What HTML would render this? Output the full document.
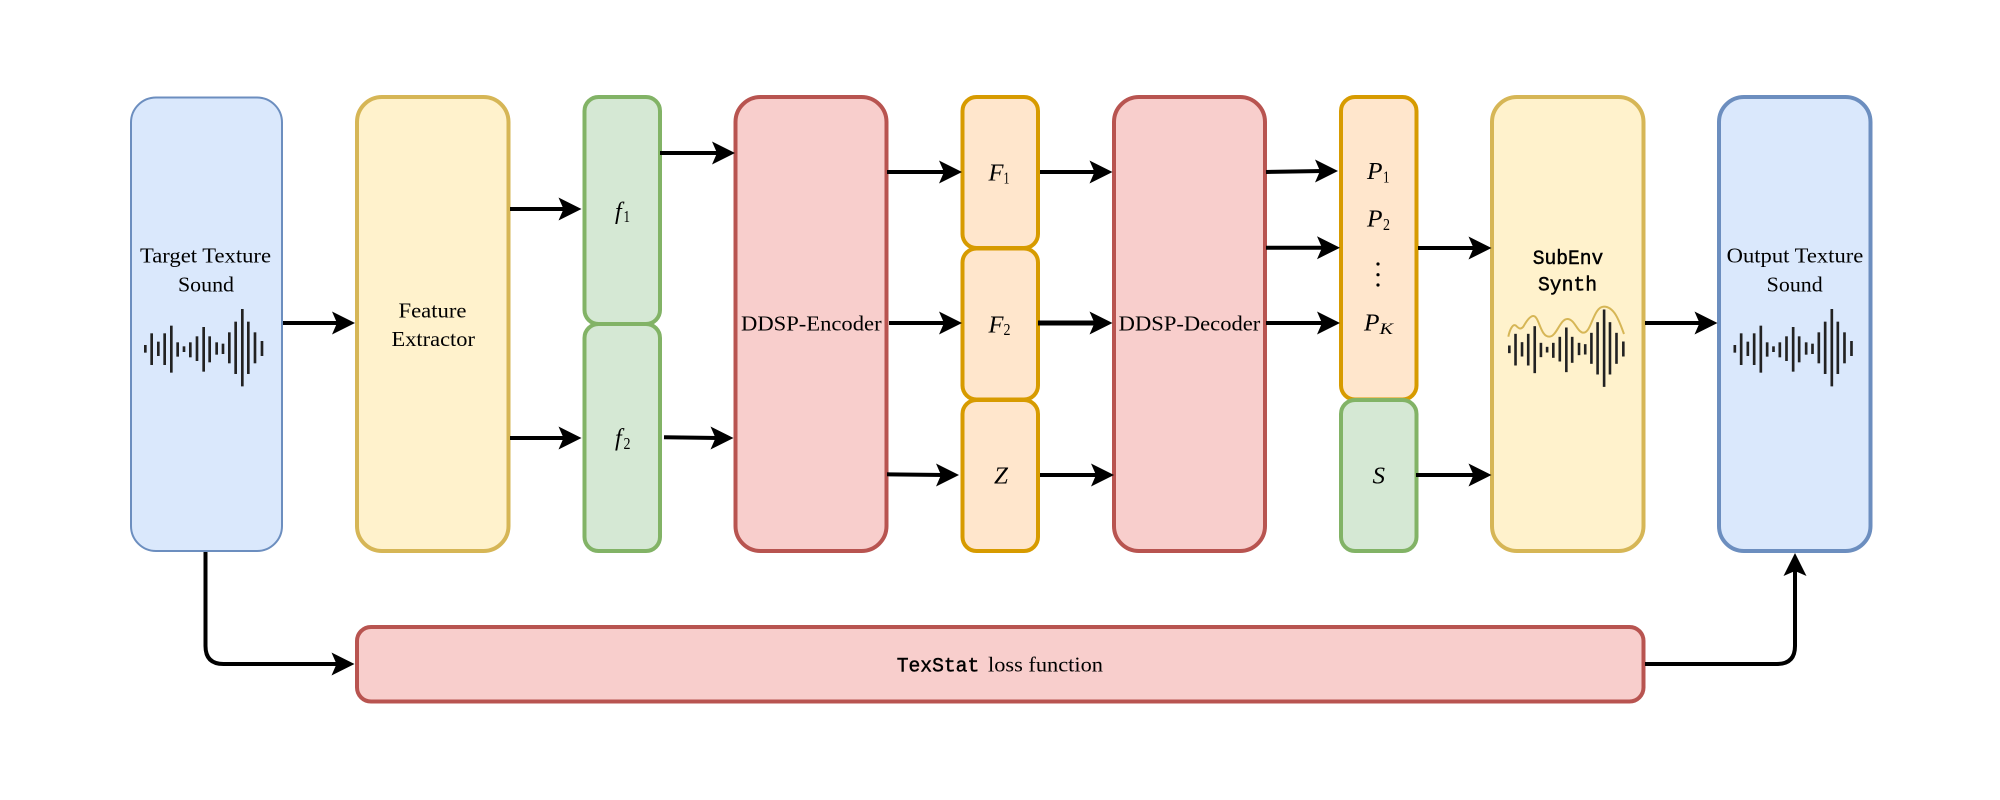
<!DOCTYPE html>
<html><head><meta charset="utf-8"><style>
html,body{margin:0;padding:0;background:#fff}
svg{display:block}
text{font-family:"Liberation Serif",serif;font-size:21.500px;fill:#000}
.m{font-family:"Liberation Mono",monospace;font-weight:normal;font-size:20px;stroke:#000;stroke-width:.45px}
.i{font-style:italic;font-size:24px}
.s{font-size:16.500px}
.si{font-size:16px;font-style:italic}
.wave line{stroke:#222;stroke-width:8}
.c{stroke:#000;stroke-width:4;fill:none}
</style></head><body>
<svg width="2000" height="800" viewBox="0 0 2000 800" xmlns="http://www.w3.org/2000/svg">
<rect width="2000" height="800" fill="#fff"/>
<defs>
<g id="wv" class="wave">
<line x1="46" y1="345" x2="46" y2="368"/><line x1="65" y1="310" x2="65" y2="405"/><line x1="85" y1="335" x2="85" y2="378"/><line x1="104" y1="310" x2="104" y2="405"/><line x1="124" y1="287" x2="124" y2="428"/><line x1="143" y1="337" x2="143" y2="380"/><line x1="162" y1="349" x2="162" y2="366"/><line x1="181" y1="337" x2="181" y2="382"/><line x1="201" y1="319" x2="201" y2="393"/><line x1="221" y1="291" x2="221" y2="425"/><line x1="239" y1="319" x2="239" y2="397"/><line x1="260" y1="337" x2="260" y2="374"/><line x1="279" y1="341" x2="279" y2="372"/><line x1="298" y1="307" x2="298" y2="400"/><line x1="317" y1="275" x2="317" y2="432"/><line x1="337" y1="237" x2="337" y2="469"/><line x1="355" y1="275" x2="355" y2="432"/><line x1="375" y1="307" x2="375" y2="400"/><line x1="396" y1="333" x2="396" y2="378"/>
</g>
<path id="ah" d="M0 0L-23 -11.5L-18 0L-23 11.5Z" fill="#000"/>
</defs>

<!-- boxes -->
<g stroke-width="4">
<rect x="131" y="97.5" width="151" height="453.5" rx="25" fill="#dae8fc" stroke="#6c8ebf" stroke-width="2"/>
<rect x="357" y="97" width="151.5" height="454" rx="25" fill="#fff2cc" stroke="#d6b656"/>
<rect x="584.500" y="97" width="75.500" height="227" rx="14" fill="#d5e8d4" stroke="#82b366"/>
<rect x="584.500" y="324" width="75.500" height="227" rx="14" fill="#d5e8d4" stroke="#82b366"/>
<rect x="735.500" y="97" width="151" height="454" rx="25" fill="#f8cecc" stroke="#b85450"/>
<rect x="962.500" y="97" width="75.500" height="151" rx="14" fill="#ffe6cc" stroke="#d79b00"/>
<rect x="962.500" y="248.500" width="75.500" height="151" rx="14" fill="#ffe6cc" stroke="#d79b00"/>
<rect x="962.500" y="400" width="75.500" height="151" rx="14" fill="#ffe6cc" stroke="#d79b00"/>
<rect x="1114" y="97" width="151" height="454" rx="25" fill="#f8cecc" stroke="#b85450"/>
<rect x="1341" y="97" width="75.500" height="302.500" rx="14" fill="#ffe6cc" stroke="#d79b00"/>
<rect x="1341" y="400" width="75.500" height="151" rx="14" fill="#d5e8d4" stroke="#82b366"/>
<rect x="1492" y="97" width="151.500" height="454" rx="25" fill="#fff2cc" stroke="#d6b656"/>
<rect x="1719" y="97" width="151.500" height="454" rx="25" fill="#dae8fc" stroke="#6c8ebf"/>
<rect x="357" y="627" width="1286.500" height="74.500" rx="14" fill="#f8cecc" stroke="#b85450"/>
</g>

<!-- connectors -->
<path class="c" d="M283 323H340M510 209H567M510 438H567M660 153H720M664 437.300L718 438M887 172H948M889 323H948M887 474.300L944 475M1040 172H1098M1040 475H1100M1266 172L1323 171M1266 247.700H1325M1266 323H1325M1418 248H1477M1416 475H1477M1645 323H1702"/>
<path class="c" style="stroke-width:5" d="M1038 323H1097"/>
<path class="c" d="M205.500 552V646Q205.500 664 223.500 664H338"/>
<path class="c" d="M1645 664H1777Q1795 664 1795 646V570"/>
<use href="#ah" x="355" y="323"/>
<use href="#ah" x="581.500" y="209"/>
<use href="#ah" x="581.500" y="438"/>
<use href="#ah" x="735" y="153"/>
<use href="#ah" x="733.500" y="438"/>
<use href="#ah" x="962" y="172"/>
<use href="#ah" x="962" y="323"/>
<use href="#ah" x="959" y="475"/>
<use href="#ah" x="1112.500" y="172"/>
<use href="#ah" x="1112.500" y="323"/>
<use href="#ah" x="1114" y="475"/>
<use href="#ah" x="1338" y="171"/>
<use href="#ah" x="1340" y="247.700"/>
<use href="#ah" x="1340" y="323"/>
<use href="#ah" x="1491.500" y="248"/>
<use href="#ah" x="1491.500" y="475"/>
<use href="#ah" x="1717.500" y="323"/>
<use href="#ah" x="354.500" y="664"/>
<use href="#ah" transform="translate(1795,553) rotate(-90)"/>

<!-- waveforms -->
<use href="#wv" transform="translate(130,230) scale(.3333)"/>
<use href="#wv" transform="translate(1719.500,230) scale(.3333)"/>
<use href="#wv" transform="translate(1494.350,230.500) scale(.3257,.3333)"/>
<path transform="translate(1490,230) scale(.3333)" d="M55 320C60 295 70 280 78 287C86 295 92 300 100 290C110 272 120 258 130 258C148 258 150 320 178 320C200 320 210 267 232 267C255 267 262 310 282 308C305 305 310 230 342 230C375 230 390 280 402 312" fill="none" stroke="#d6b656" stroke-width="6"/>

<!-- labels -->
<text x="140" y="262.700" textLength="131" lengthAdjust="spacingAndGlyphs">Target Texture</text>
<text x="178" y="291.300" textLength="56" lengthAdjust="spacingAndGlyphs">Sound</text>
<text x="398.500" y="317.700" textLength="68" lengthAdjust="spacingAndGlyphs">Feature</text>
<text x="391.500" y="346" textLength="83.500" lengthAdjust="spacingAndGlyphs">Extractor</text>
<text x="741" y="330.700" textLength="140.600" lengthAdjust="spacingAndGlyphs">DDSP-Encoder</text>
<text x="1118.700" y="330.700" textLength="141.600" lengthAdjust="spacingAndGlyphs">DDSP-Decoder</text>
<text x="1726.700" y="262.700" textLength="136.600" lengthAdjust="spacingAndGlyphs">Output Texture</text>
<text x="1766.700" y="291.300" textLength="56" lengthAdjust="spacingAndGlyphs">Sound</text>
<text class="m" x="1532.700" y="264" textLength="70.600" lengthAdjust="spacingAndGlyphs">SubEnv</text>
<text class="m" x="1538" y="290.300" textLength="59" lengthAdjust="spacingAndGlyphs">Synth</text>
<text class="m" x="896.700" y="671.700" textLength="82.600" lengthAdjust="spacingAndGlyphs">TexStat</text>
<text x="988" y="671.700" textLength="115" lengthAdjust="spacingAndGlyphs">loss function</text>

<text class="i" x="615" y="219">f</text><text class="s" x="623.500" y="222" textLength="6.500" lengthAdjust="spacingAndGlyphs">1</text>
<text class="i" x="615" y="445.700">f</text><text class="s" x="623.500" y="449" textLength="7" lengthAdjust="spacingAndGlyphs">2</text>
<text class="i" x="988.500" y="180.700" textLength="15" lengthAdjust="spacingAndGlyphs">F</text><text class="s" x="1003.500" y="183.500" textLength="6" lengthAdjust="spacingAndGlyphs">1</text>
<text class="i" x="988.500" y="332.300" textLength="15" lengthAdjust="spacingAndGlyphs">F</text><text class="s" x="1003.500" y="335" textLength="7" lengthAdjust="spacingAndGlyphs">2</text>
<text class="i" x="994" y="483.300" textLength="14" lengthAdjust="spacingAndGlyphs">Z</text>
<text class="i" x="1367" y="179" textLength="15.500" lengthAdjust="spacingAndGlyphs">P</text><text class="s" x="1383" y="182.300" textLength="6.500" lengthAdjust="spacingAndGlyphs">1</text>
<text class="i" x="1367" y="226.700" textLength="15.500" lengthAdjust="spacingAndGlyphs">P</text><text class="s" x="1383" y="230" textLength="7" lengthAdjust="spacingAndGlyphs">2</text>
<circle cx="1378" cy="264" r="1.600"/><circle cx="1378" cy="274.700" r="1.600"/><circle cx="1378" cy="285" r="1.600"/>
<text class="i" x="1364" y="330.700" textLength="15.500" lengthAdjust="spacingAndGlyphs">P</text><text class="si" x="1379.500" y="334" textLength="13.500" lengthAdjust="spacingAndGlyphs">K</text>
<text class="i" x="1372.500" y="483.300" textLength="12.500" lengthAdjust="spacingAndGlyphs">S</text>
</svg>
</body></html>
